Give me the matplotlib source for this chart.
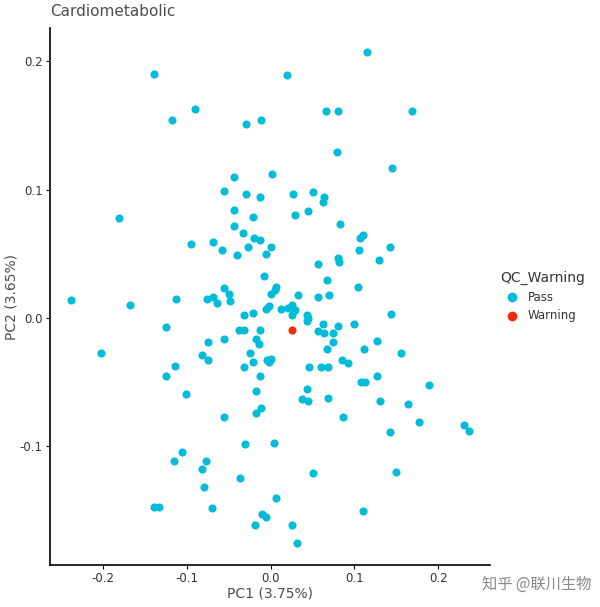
import matplotlib
matplotlib.use("Agg")
import matplotlib.pyplot as plt
plt.rcParams['axes.unicode_minus'] = False

pass_x = [-0.139,-0.090,-0.118,-0.029,-0.011,-0.043,-0.055,-0.029,-0.012,-0.181,-0.043,-0.021,-0.043,-0.033,-0.020,-0.012,
          -0.095,-0.068,-0.058,-0.040,-0.027,-0.006,-0.008,-0.055,-0.050,
          0.115,0.020,0.066,0.080,0.168,0.079,0.145,0.002,0.027,0.050,0.064,0.062,0.029,0.045,0.083,0.110,0.106,0.000,0.105,
          0.142,0.129,0.056,0.080,0.081,0.067,0.007,0.000,0.033,0.057,0.070,0.104,
          -0.238,-0.167,-0.113,-0.076,-0.069,-0.064,-0.048,-0.005,-0.032,-0.021,-0.124,-0.038,-0.032,-0.012,-0.074,-0.055,
          -0.017,-0.014,-0.202,-0.082,-0.075,-0.024,-0.021,-0.114,-0.032,-0.004,-0.125,-0.012,-0.101,-0.017,-0.011,-0.017,
          -0.056,-0.030,-0.106,-0.115,-0.077,-0.082,-0.036,-0.079,-0.139,-0.133,-0.070,-0.010,-0.005,-0.019,
          0.143,-0.002,0.012,0.021,0.025,0.029,0.026,0.043,0.045,0.044,0.063,0.080,0.100,0.056,0.064,0.074,0.127,0.075,
          0.067,0.111,0.155,-0.002,0.000,0.085,0.092,0.046,0.060,0.069,0.127,0.108,0.112,0.189,0.044,0.037,0.045,0.069,
          0.131,0.164,0.086,0.177,0.231,0.236,0.142,0.004,0.051,0.149,0.007,0.110,0.026,0.031,0.005]
pass_y = [0.190,0.163,0.154,0.151,0.154,0.110,0.099,0.097,0.094,0.078,0.084,0.079,0.072,0.066,0.062,0.061,
          0.058,0.059,0.053,0.049,0.055,0.050,0.033,0.023,0.019,
          0.207,0.189,0.161,0.161,0.161,0.129,0.117,0.112,0.097,0.098,0.094,0.090,0.080,0.083,0.073,0.065,0.062,0.055,0.053,
          0.055,0.045,0.042,0.047,0.044,0.030,0.024,0.019,0.018,0.016,0.018,0.024,
          0.014,0.010,0.015,0.015,0.016,0.012,0.013,0.007,0.002,0.004,-0.007,-0.009,-0.009,-0.009,-0.019,-0.016,
          -0.016,-0.020,-0.027,-0.029,-0.033,-0.027,-0.034,-0.037,-0.038,-0.033,-0.045,-0.045,-0.059,-0.057,-0.070,-0.074,
          -0.077,-0.098,-0.104,-0.111,-0.111,-0.118,-0.125,-0.132,-0.147,-0.147,-0.148,-0.153,-0.155,-0.161,
          0.003,0.009,0.007,0.008,0.010,0.006,0.002,0.002,0.000,-0.002,-0.005,-0.006,-0.005,-0.010,-0.012,-0.012,-0.018,-0.019,
          -0.024,-0.024,-0.027,-0.034,-0.032,-0.033,-0.035,-0.038,-0.038,-0.038,-0.045,-0.050,-0.050,-0.052,-0.055,-0.063,-0.065,-0.062,
          -0.065,-0.067,-0.077,-0.081,-0.083,-0.088,-0.089,-0.097,-0.121,-0.120,-0.140,-0.150,-0.161,-0.175,0.022]
warn_x = [0.025]
warn_y = [-0.009]

fig = plt.figure(figsize=(6, 6.07), dpi=100)
ax = fig.add_axes([0.083, 0.069, 0.733, 0.885])
c_pass, c_warn = '#00BCD8', '#F2290A'
ax.scatter(pass_x, pass_y, s=34, color=c_pass, label='Pass', linewidths=0)
ax.scatter(warn_x, warn_y, s=34, color=c_warn, label='Warning', linewidths=0)
ax.set_xlim(-0.263, 0.261)
ax.set_ylim(-0.1925, 0.226)
ax.set_xticks([-0.2, -0.1, 0.0, 0.1, 0.2])
ax.set_yticks([-0.1, 0.0, 0.1, 0.2])
for s in ['top', 'right']:
    ax.spines[s].set_visible(False)
for s in ['left', 'bottom']:
    ax.spines[s].set_linewidth(1.2)
ax.tick_params(labelsize=8.5, colors='#333333', length=3, pad=2)
ax.tick_params(axis='both', color='black')
ax.set_xlabel('PC1 (3.75%)', fontsize=10, color='#4D4D4D', labelpad=1)
ax.set_ylabel('PC2 (3.65%)', fontsize=10, color='#4D4D4D', labelpad=1)
fig.text(0.083, 0.968, 'Cardiometabolic', fontsize=11, color='#4D4D4D', va='bottom')
leg = ax.legend(title='QC_Warning', loc='center left', bbox_to_anchor=(1.0, 0.50),
                frameon=False, fontsize=8.5, title_fontsize=10, handletextpad=0.3, markerscale=1.2)
leg._legend_box.align = 'left'
leg.get_title().set_color('#333333')
for t in leg.get_texts():
    t.set_color('#333333')
fig.text(0.985, 0.03, '知乎 @联川生物', fontsize=11, color='#888888', ha='right',
         family=['Noto Sans CJK SC', 'DejaVu Sans'])
fig.savefig('out.png', dpi=100)
